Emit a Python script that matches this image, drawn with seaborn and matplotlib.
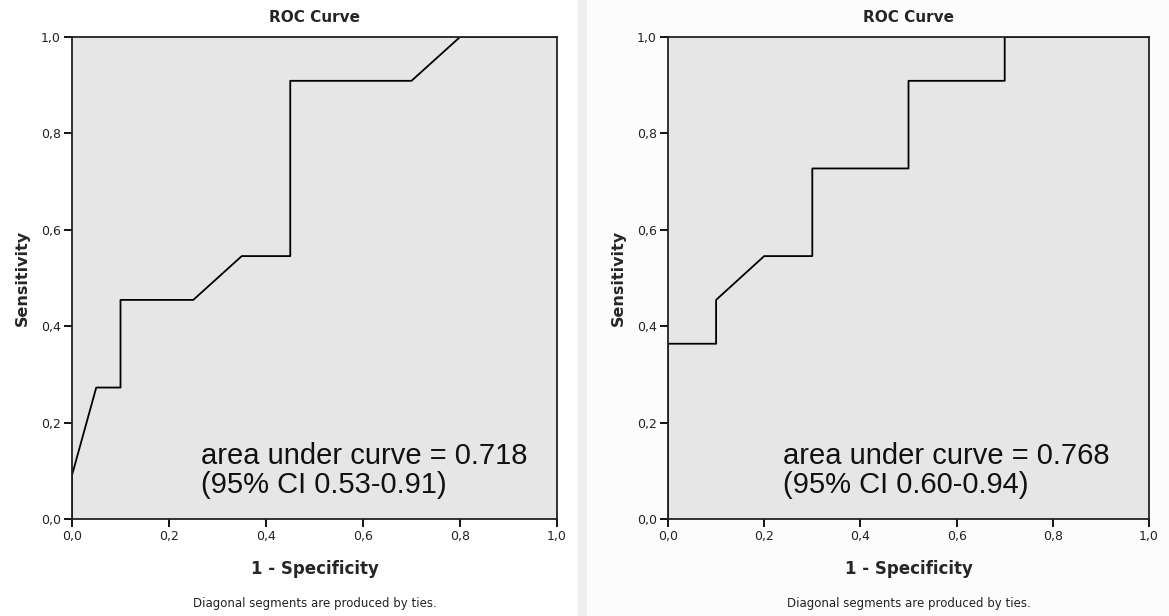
import matplotlib
matplotlib.use("Agg")
import matplotlib.pyplot as plt
import seaborn as sns
import pandas as pd
from matplotlib.patches import Rectangle
from matplotlib.ticker import FuncFormatter

# ROC points (1 - specificity, sensitivity)
left_fpr = [0.0, 0.0, 0.05, 0.10, 0.10, 0.25, 0.35, 0.45, 0.45, 0.70, 0.80, 1.0]
left_tpr = [0.0, 1/11, 3/11, 3/11, 5/11, 5/11, 6/11, 6/11, 10/11, 10/11, 1.0, 1.0]
left_note = "area under curve = 0.718\n(95% CI 0.53-0.91)"

right_fpr = [0.0, 0.0, 0.10, 0.10, 0.20, 0.30, 0.30, 0.50, 0.50, 0.70, 0.70, 1.0]
right_tpr = [0.0, 4/11, 4/11, 5/11, 6/11, 6/11, 8/11, 8/11, 10/11, 10/11, 1.0, 1.0]
right_note = "area under curve = 0.768\n(95% CI 0.60-0.94)"

ticks = [0.0, 0.2, 0.4, 0.6, 0.8, 1.0]
footnote = "Diagonal segments are produced by ties."

sns.set_theme(style="white")
plt.rcParams["font.family"] = ["DejaVu Sans"]

fig = plt.figure(figsize=(11.69, 6.16), dpi=100)

# light divider strip between the two panels
fig.patches.append(Rectangle((578 / 1169, 0), 9 / 1169, 1, transform=fig.transFigure,
                             color="#efefef", zorder=-5))
fig.patches.append(Rectangle((587 / 1169, 0), 582 / 1169, 1, transform=fig.transFigure,
                             color="#fcfcfc", zorder=-5))

panels = [
    ([72 / 1169, 97 / 616, 485 / 1169, 482 / 616], left_fpr, left_tpr, left_note, 0.265),
    ([668 / 1169, 97 / 616, 481 / 1169, 482 / 616], right_fpr, right_tpr, right_note, 0.24),
]

comma = FuncFormatter(lambda v, _: f"{v:.1f}".replace(".", ","))

for rect, fpr, tpr, note, tx in panels:
    ax = fig.add_axes(rect)
    df = pd.DataFrame({"fpr": fpr, "tpr": tpr})
    sns.lineplot(data=df, x="fpr", y="tpr", sort=False, estimator=None,
                 color="black", linewidth=1.3, ax=ax)
    ax.set_facecolor("#e6e6e6")
    ax.set_xlim(0, 1)
    ax.set_ylim(0, 1)
    ax.set_xticks(ticks)
    ax.set_yticks(ticks)
    ax.xaxis.set_major_formatter(comma)
    ax.yaxis.set_major_formatter(comma)
    ax.tick_params(axis="both", which="major", direction="out", length=6, width=1.3,
                   color="black", labelsize=9, labelcolor="#222222",
                   bottom=True, left=True, pad=2)
    for s in ax.spines.values():
        s.set_color("#222222")
        s.set_linewidth(1.3)
    ax.set_title("ROC Curve", fontsize=11, fontweight="bold", pad=11)
    ax.set_xlabel("1 - Specificity", fontsize=12, fontweight="bold", labelpad=12)
    ax.set_ylabel("Sensitivity", fontsize=11.5, fontweight="bold", labelpad=8)
    ax.text(tx, 0.10, note, fontsize=21, family="Liberation Sans", color="#111111",
            ha="left", va="center", linespacing=1.05, transform=ax.transData)
    fig.text(rect[0] + rect[2] / 2, 0.021, footnote, ha="center", va="center",
             fontsize=8.5, color="#222222")

fig.savefig("out.png", dpi=100)
plt.close(fig)
